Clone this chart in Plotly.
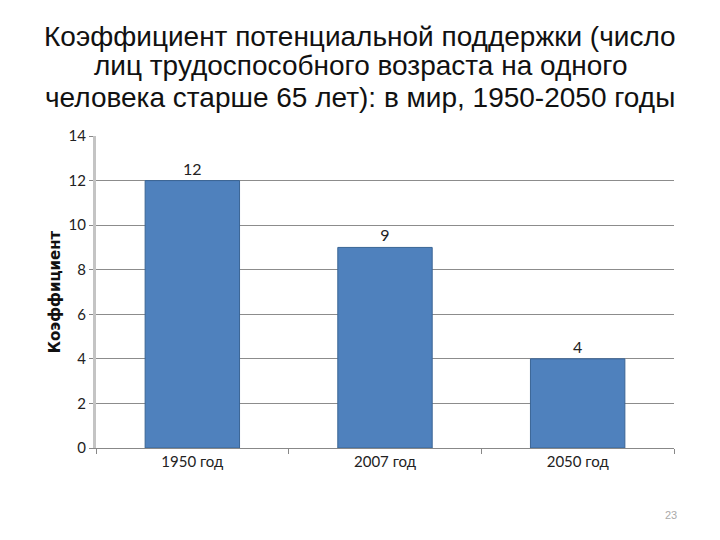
import plotly.graph_objects as go

categories = ["1950 год", "2007 год", "2050 год"]
values = [12, 9, 4]
labels = ["12", "9", "4"]
y_ticks = [0, 2, 4, 6, 8, 10, 12, 14]

title_lines = [
    "Коэффициент потенциальной поддержки (число",
    "лиц трудоспособного возраста на одного",
    "человека старше 65 лет): в мир, 1950-2050 годы",
]
page_number = "23"

W, H = 720, 540
ML, MR, MT, MB = 96, 46, 136, 92
plot_h = H - MT - MB


def py(pixel_y):
    return (H - MB - pixel_y) / plot_h


fig = go.Figure()
fig.add_trace(go.Bar(
    x=categories, y=values, text=labels, textposition="outside",
    textfont=dict(family="Lato, Open Sans, sans-serif", size=16, color="#222"),
    marker=dict(color="#4F81BD", line=dict(color="#3A6595", width=1)),
    width=0.49, cliponaxis=False,
))

fig.update_layout(
    width=W, height=H,
    margin=dict(l=ML, r=MR, t=MT, b=MB),
    plot_bgcolor="white", paper_bgcolor="white",
    showlegend=False,
    xaxis=dict(
        type="category", showline=True, linecolor="#888", linewidth=1,
        ticks="outside", tickson="boundaries", ticklen=5, tickcolor="#888",
        tickfont=dict(family="Lato, Open Sans, sans-serif", size=15, color="#222"),
    ),
    yaxis=dict(
        range=[0, 14], tickvals=y_ticks, showgrid=True, gridcolor="#8c8c8c", gridwidth=1,
        showline=True, linecolor="#c4c4c4", linewidth=3,
        ticks="outside", ticklen=4, tickcolor="#888",
        tickfont=dict(family="Lato, Open Sans, sans-serif", size=15, color="#222"),
        title=dict(text="<b>Коэффициент</b>", standoff=5,
                   font=dict(family="DejaVu Sans, Verdana, sans-serif", size=15, color="#111")),
        zeroline=False,
    ),
)

for line, yc in zip(title_lines, [36, 66, 97]):
    fig.add_annotation(text=line, xref="paper", yref="paper", x=0.5 - (ML - MR) / 2 / (W - ML - MR),
                       y=py(yc), xanchor="center", yanchor="middle", showarrow=False,
                       font=dict(family="Liberation Sans, Arial, sans-serif", size=28, color="#111"))

fig.add_annotation(text=page_number, xref="paper", yref="paper",
                   x=(671 - ML) / (W - ML - MR), y=py(515),
                   xanchor="center", yanchor="middle", showarrow=False,
                   font=dict(family="Liberation Sans, Arial, sans-serif", size=11, color="#aaa"))

fig.write_html("out.html")
